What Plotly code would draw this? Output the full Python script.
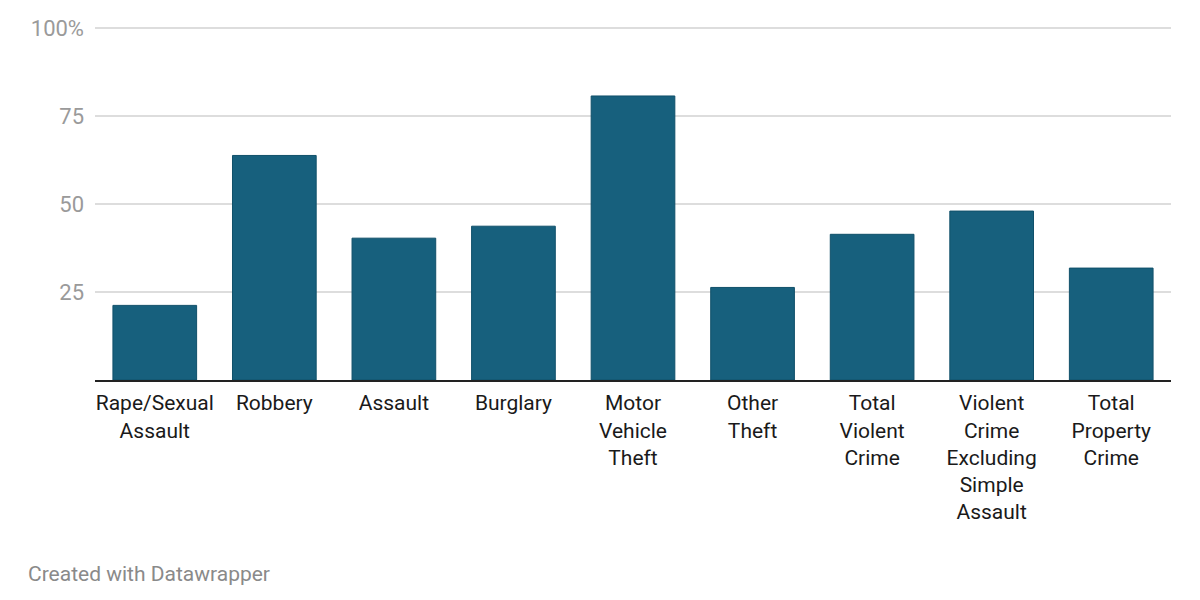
import plotly.graph_objects as go

categories = [
    "Rape/Sexual<br>Assault",
    "Robbery",
    "Assault",
    "Burglary",
    "Motor<br>Vehicle<br>Theft",
    "Other<br>Theft",
    "Total<br>Violent<br>Crime",
    "Violent<br>Crime<br>Excluding<br>Simple<br>Assault",
    "Total<br>Property<br>Crime",
]
values = [21.2, 63.8, 40.3, 43.7, 80.7, 26.3, 41.4, 48.0, 31.8]
ytick_vals = [25, 50, 75, 100]
ytick_text = ["25", "50", "75", "100%"]

# page body has an 8px offset; margins compensate
L, R, T, B = 87, 37, 19, 228
PW = 1200 - L - R
PH = 600 - T - B

fig = go.Figure()
fig.add_trace(go.Bar(
    x=categories,
    y=values,
    marker=dict(color="#17607d", line=dict(color="#10506a", width=1)),
    width=0.7,
    hoverinfo="x+y",
))

fig.update_layout(
    width=1200,
    height=600,
    margin=dict(l=L, r=R, t=T, b=B, autoexpand=False),
    plot_bgcolor="white",
    paper_bgcolor="white",
    font=dict(family="Roboto", color="#222222"),
    showlegend=False,
    xaxis=dict(
        showgrid=False,
        showline=True,
        linecolor="#222222",
        linewidth=2,
        tickfont=dict(size=21, color="#1a1a1a", family="Roboto"),
        ticks="",
        tickangle=0,
        ticklabelstandoff=3,
        automargin=False,
        fixedrange=True,
    ),
    yaxis=dict(
        range=[0, 100.3],
        tickvals=ytick_vals,
        ticktext=ytick_text,
        showgrid=True,
        gridcolor="#dddddd",
        gridwidth=1.5,
        zeroline=False,
        showline=False,
        tickfont=dict(size=22, color="#9a9a9a", family="Roboto"),
        ticks="",
        ticklabelstandoff=10,
        automargin=False,
        fixedrange=True,
    ),
    annotations=[
        dict(
            text="Created with Datawrapper",
            xref="paper", yref="paper",
            x=(18 - L) / PW, y=(600 - B - 566) / PH,
            xanchor="left", yanchor="middle",
            showarrow=False,
            font=dict(size=21, color="#8a8a8a", family="Roboto"),
        )
    ],
)

fig.write_html("out.html")
